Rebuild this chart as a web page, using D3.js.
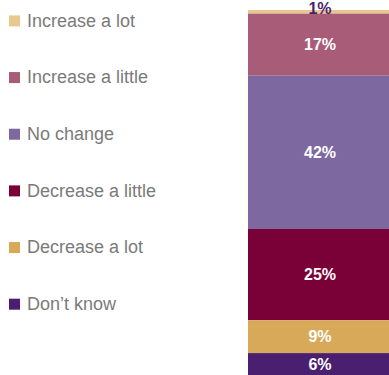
<!DOCTYPE html>
<html>
<head>
<meta charset="utf-8">
<script src="https://cdn.jsdelivr.net/npm/d3@7"></script>
<style>
  html, body { margin: 0; padding: 0; background: #fff; }
  svg { display: block; }
</style>
</head>
<body>
<svg id="chart" width="389" height="375"></svg>
<script>
// Response categories, top of the stack first
const categories = ["Increase a lot", "Increase a little", "No change", "Decrease a little", "Decrease a lot", "Don\u2019t know"];
// Share of respondents (%)
const values = [1, 17, 42, 25, 9, 6];
const colors = ["#e8c88f", "#a85c77", "#7e68a0", "#7a0038", "#d9a95a", "#4b1f6f"];

const svg = d3.select("#chart");
const W = 389, H = 375;

// Stack the single bar from the top down
let acc = 0;
const segments = categories.map((c, i) => {
  const s = { cat: c, value: values[i], color: colors[i], y0: acc, y1: acc + values[i] };
  acc += values[i];
  return s;
});

const y = d3.scaleLinear().domain([0, d3.sum(values)]).range([10, H]);
const x = d3.scaleBand().domain(["all"]).range([248, W + 1]).padding(0);

const bar = svg.append("g");
bar.selectAll("rect")
  .data(segments)
  .join("rect")
  .attr("x", x("all"))
  .attr("width", x.bandwidth())
  .attr("y", d => y(d.y0))
  .attr("height", d => y(d.y1) - y(d.y0))
  .attr("fill", d => d.color);

// Value labels: small segments get a dark label sitting over the sliver
const cx = 320;
bar.selectAll("text")
  .data(segments)
  .join("text")
  .attr("x", cx)
  .attr("y", d => {
    const h = y(d.y1) - y(d.y0);
    if (h < 14) return y(d.y1);
    return (y(d.y0) + y(d.y1)) / 2 + 5.6;
  })
  .attr("text-anchor", "middle")
  .attr("font-family", "'Liberation Sans', Arial, sans-serif")
  .attr("font-weight", "bold")
  .attr("font-size", 16)
  .attr("fill", d => (y(d.y1) - y(d.y0) < 14 ? "#4b1f6f" : "#ffffff"))
  .text(d => d.value + "%");

// Legend
const ly = d3.scalePoint().domain(categories).range([26.7, 310]);
const legend = svg.append("g");
const rows = legend.selectAll("g")
  .data(segments)
  .join("g")
  .attr("transform", d => `translate(0,${ly(d.cat)})`);
rows.append("rect")
  .attr("x", 9)
  .attr("y", -11.3)
  .attr("width", 11)
  .attr("height", 11)
  .attr("fill", d => d.color);
rows.append("text")
  .attr("x", 27)
  .attr("y", 0)
  .attr("font-family", "'Liberation Sans', Arial, sans-serif")
  .attr("font-size", 18)
  .attr("fill", "#7a7a7a")
  .text(d => d.cat);
</script>
</body>
</html>
